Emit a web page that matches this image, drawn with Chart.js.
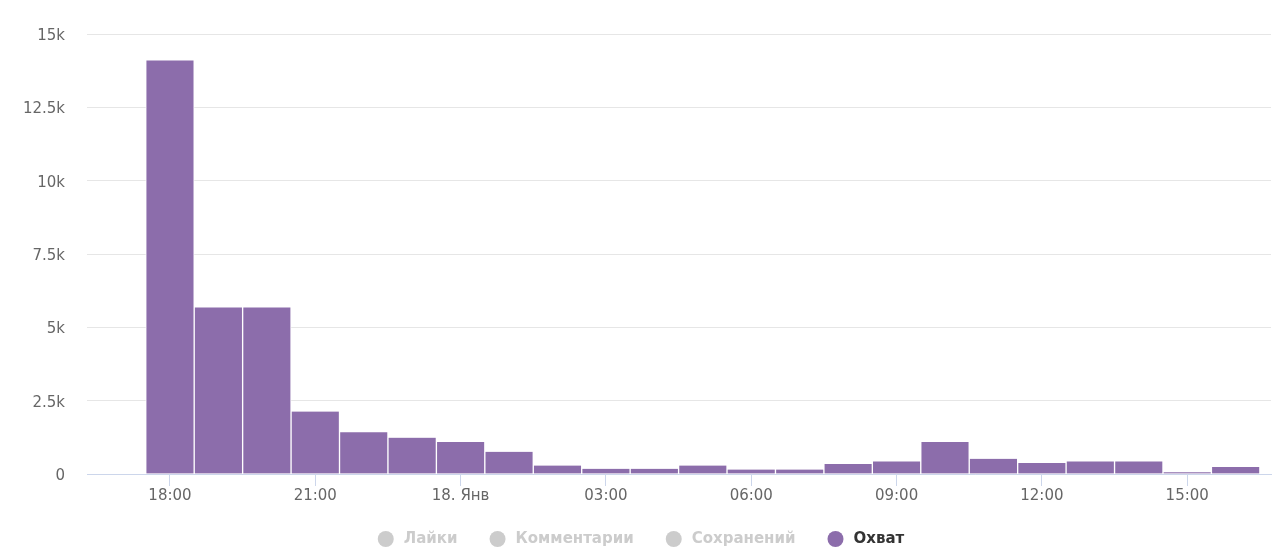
<!DOCTYPE html>
<html lang="ru">
<head>
    <meta charset="UTF-8">
    <title>Охват</title>
    <script src="https://cdn.jsdelivr.net/npm/chart.js"></script>
    <style>
        body {
            margin: 0;
            background: #ffffff;
        }
        #wrap {
            width: 1280px;
            height: 549px;
        }
    </style>
</head>
<body>
    <div id="wrap">
        <canvas id="reach"></canvas>
    </div>
    <script>
        // часы с 18:00 17 янв. по 16:00 18 янв.
        const hours = ['18:00', '19:00', '20:00', '21:00', '22:00', '23:00', '00:00', '01:00',
                       '02:00', '03:00', '04:00', '05:00', '06:00', '07:00', '08:00', '09:00',
                       '10:00', '11:00', '12:00', '13:00', '14:00', '15:00', '16:00'];
        const hourIndex = [0, 1, 2, 3, 4, 5, 6, 7, 8, 9, 10, 11, 12, 13, 14, 15, 16, 17, 18, 19, 20, 21, 22];
        const reach = [14100, 5680, 5680, 2130, 1420, 1240, 1090, 760,
                       290, 180, 180, 290, 150, 150, 340, 430,
                       1090, 520, 375, 430, 430, 60, 240];

        const tickPositions = [0, 3, 6, 9, 12, 15, 18, 21];
        const tickLabels = ['18:00', '21:00', '18. Янв', '03:00', '06:00', '09:00', '12:00', '15:00'];

        const legendNames = ['Лайки', 'Комментарии', 'Сохранений', 'Охват'];
        const legendActive = [false, false, false, true];

        const purple = '#8c6dab';
        const font = '"DejaVu Sans", sans-serif';

        // легенда снизу, как в оригинале
        const bottomLegend = {
            id: 'bottomLegend',
            afterDraw(chart) {
                const ctx = chart.ctx;
                ctx.save();
                ctx.font = 'bold 15px ' + font;
                ctx.textBaseline = 'middle';
                const r = 8, gapText = 10, gapItem = 32;
                const widths = legendNames.map(n => ctx.measureText(n).width);
                let total = 0;
                widths.forEach((w, i) => { total += r * 2 + gapText + w + (i ? gapItem : 0); });
                let x = chart.width / 2 + 1 - total / 2;
                const y = 539;
                legendNames.forEach((name, i) => {
                    const on = legendActive[i];
                    ctx.fillStyle = on ? purple : '#cccccc';
                    ctx.beginPath();
                    ctx.arc(x + r, y, r, 0, Math.PI * 2);
                    ctx.fill();
                    ctx.fillStyle = on ? '#333333' : '#cccccc';
                    ctx.fillText(name, x + r * 2 + gapText, y);
                    x += r * 2 + gapText + widths[i] + gapItem;
                });
                ctx.restore();
            }
        };

        const ctx = document.getElementById('reach').getContext('2d');
        const reachChart = new Chart(ctx, {
            type: 'bar',
            data: {
                datasets: [{
                    label: 'Охват',
                    data: hourIndex.map((h, i) => ({ x: h, y: reach[i] })),
                    backgroundColor: purple,
                    borderColor: '#ffffff',
                    borderWidth: { top: 0, right: 1, bottom: 0, left: 1 },
                    barPercentage: 1,
                    categoryPercentage: 1
                }]
            },
            plugins: [bottomLegend],
            options: {
                responsive: true,
                maintainAspectRatio: false,
                animation: false,
                layout: {
                    padding: { top: 34, right: 9, bottom: 0, left: 0 }
                },
                plugins: {
                    legend: { display: false },
                    tooltip: {
                        callbacks: {
                            title: items => hours[items[0].dataIndex]
                        }
                    }
                },
                scales: {
                    x: {
                        type: 'linear',
                        offset: false,
                        min: -1.713,
                        max: 22.73,
                        afterBuildTicks: axis => {
                            axis.ticks = tickPositions.map(v => ({ value: v }));
                        },
                        afterFit: axis => { axis.height = 75; },
                        grid: {
                            offset: false,
                            drawOnChartArea: false,
                            drawTicks: true,
                            tickLength: 12,
                            color: '#ccd6eb'
                        },
                        border: { color: '#ccd6eb' },
                        ticks: {
                            autoSkip: false,
                            maxRotation: 0,
                            padding: 1,
                            color: '#666666',
                            font: { family: font, size: 15 },
                            callback: v => tickLabels[tickPositions.indexOf(v)]
                        }
                    },
                    y: {
                        min: 0,
                        max: 15000,
                        afterBuildTicks: axis => {
                            axis.ticks = [0, 2500, 5000, 7500, 10000, 12500, 15000].map(v => ({ value: v }));
                        },
                        afterFit: axis => { axis.width = 87; },
                        grid: {
                            drawTicks: false,
                            color: '#e6e6e6'
                        },
                        border: { display: false },
                        ticks: {
                            padding: 22,
                            labelOffset: 2,
                            color: '#666666',
                            font: { family: font, size: 15 },
                            callback: v => v === 0 ? '0' : (v / 1000) + 'k'
                        }
                    }
                }
            }
        });
    </script>
</body>
</html>
